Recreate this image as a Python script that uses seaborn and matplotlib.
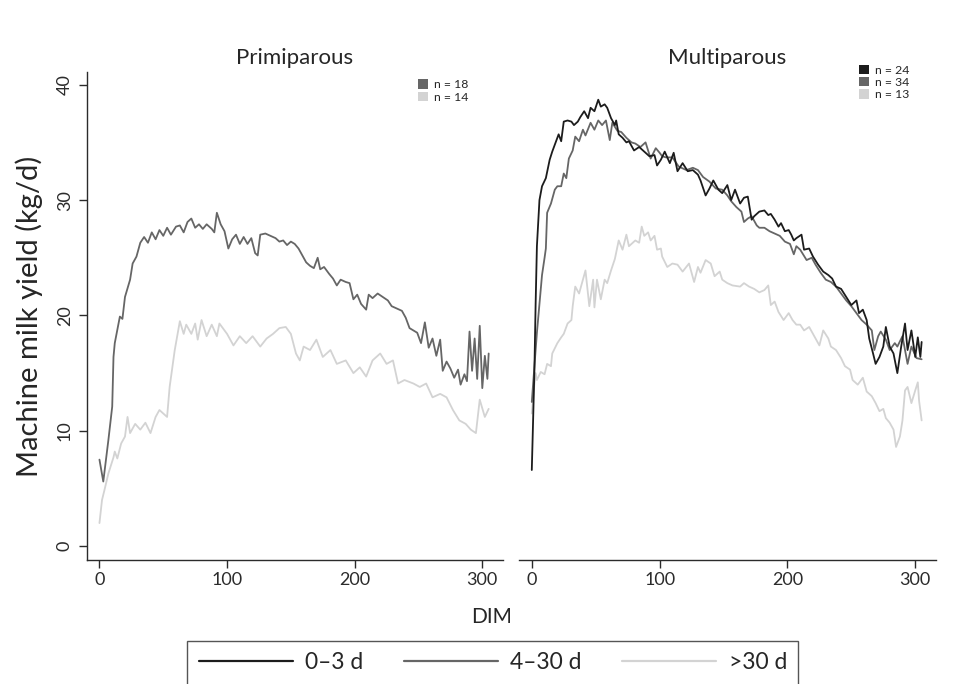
import matplotlib
matplotlib.use("Agg")
import matplotlib.pyplot as plt
from matplotlib.patches import Patch
from matplotlib.lines import Line2D
import pandas as pd
import seaborn as sns

# ---- values (DIM vs machine milk yield, kg/d) ----
# Primiparous, 4-30 d
prim_mid_dim = [0, 3, 7, 10, 11, 12, 16, 18, 20, 24, 26, 29, 32, 35, 38, 41, 44, 47, 50, 53,
                56, 60, 63, 66, 69, 72, 75, 78, 81, 84, 88, 90, 92, 95, 98, 101, 104, 107, 110, 113,
                116, 119, 122, 124, 126, 130, 134, 138, 141, 144, 147, 150, 153, 156, 159, 162, 165, 168, 171, 173,
                176, 180, 183, 186, 189, 193, 196, 199, 202, 205, 209, 211, 214, 218, 222, 226, 229, 233, 237, 240,
                243, 246, 249, 252, 255, 258, 261, 264, 267, 269, 272, 275, 278, 281, 283, 286, 288, 290, 292, 294,
                296, 298, 300, 302, 304, 305]
prim_mid_yield = [7.5, 5.6, 9.2, 12.1, 16.4, 17.6, 19.9, 19.7, 21.6, 23.1, 24.5, 25.1, 26.3, 26.8, 26.3, 27.2, 26.6, 27.4, 26.9, 27.6,
                  27.0, 27.7, 27.8, 27.2, 28.1, 28.4, 27.6, 27.9, 27.5, 27.9, 27.5, 27.2, 28.9, 27.9, 27.3, 25.8, 26.6, 27.0, 26.2, 26.8,
                  26.2, 26.7, 25.4, 25.2, 27.0, 27.1, 26.9, 26.7, 26.4, 26.5, 26.1, 26.4, 26.2, 25.8, 25.2, 24.6, 24.3, 24.1, 25.0, 24.0,
                  24.2, 23.6, 23.2, 22.6, 23.1, 22.9, 22.8, 21.4, 21.8, 21.0, 20.5, 21.8, 21.5, 21.9, 21.6, 21.3, 20.8, 20.6, 20.4, 19.8,
                  18.9, 18.7, 18.5, 17.6, 19.4, 17.2, 18.0, 16.5, 17.9, 15.2, 16.0, 15.4, 14.6, 15.3, 14.0, 14.9, 14.3, 18.6, 15.2, 18.0,
                  14.5, 19.1, 13.7, 16.5, 14.5, 16.7]

# Primiparous, >30 d
prim_late_dim = [0, 2, 4, 7, 11, 12, 14, 17, 20, 22, 24, 28, 32, 36, 40, 44, 47, 50, 53, 55,
                 59, 63, 66, 68, 72, 75, 77, 80, 84, 88, 92, 94, 100, 105, 110, 115, 120, 126, 131, 136,
                 141, 146, 150, 154, 157, 160, 165, 170, 175, 181, 186, 193, 199, 204, 209, 214, 220, 225, 230, 234,
                 239, 246, 251, 256, 261, 267, 272, 277, 282, 287, 291, 295, 298, 302, 305]
prim_late_yield = [2.0, 4.0, 4.9, 6.3, 7.7, 8.2, 7.6, 8.9, 9.5, 11.2, 9.8, 10.6, 10.1, 10.7, 9.8, 11.2, 11.8, 11.5, 11.2, 13.8,
                   17.0, 19.5, 18.4, 19.2, 18.4, 19.3, 17.9, 19.6, 18.2, 19.2, 18.2, 19.3, 18.4, 17.4, 18.2, 17.6, 18.2, 17.3, 18.0, 18.4,
                   18.9, 19.0, 18.4, 16.7, 16.1, 17.3, 17.0, 17.9, 16.4, 17.0, 15.8, 16.1, 15.0, 15.5, 14.7, 16.1, 16.7, 15.8, 16.1, 14.1,
                   14.4, 14.1, 13.8, 14.1, 12.9, 13.2, 12.9, 11.8, 10.9, 10.6, 10.1, 9.8, 12.7, 11.2, 11.9]

# Multiparous, 0-3 d
multi_early_dim = [0, 2, 3, 4, 6, 8, 11, 14, 16, 19, 21, 23, 25, 28, 31, 33, 36, 38, 41, 44,
                   46, 49, 52, 54, 57, 59, 62, 65, 66, 68, 71, 74, 76, 80, 84, 88, 92, 96, 98, 101,
                   104, 108, 111, 114, 118, 122, 126, 130, 132, 136, 139, 142, 146, 149, 153, 156, 159, 163, 166, 169,
                   172, 174, 178, 182, 185, 187, 190, 193, 195, 198, 201, 203, 205, 207, 211, 213, 217, 220, 224, 228,
                   232, 235, 238, 242, 246, 250, 254, 256, 259, 262, 264, 267, 269, 272, 275, 277, 280, 283, 286, 289,
                   292, 294, 297, 300, 302, 304, 305]
multi_early_yield = [6.6, 15.0, 21.0, 26.0, 30.0, 31.2, 31.9, 33.5, 34.2, 35.1, 35.7, 35.1, 36.8, 36.9, 36.8, 36.5, 36.8, 37.2, 37.7, 37.1,
                     38.0, 37.7, 38.7, 38.1, 38.3, 38.0, 37.1, 36.5, 36.9, 35.7, 35.4, 35.0, 35.1, 34.3, 34.6, 34.2, 33.8, 33.9, 33.0, 33.5,
                     34.2, 33.2, 34.1, 32.5, 33.2, 32.5, 32.6, 32.2, 31.7, 30.4, 31.0, 31.7, 30.9, 30.6, 31.3, 30.0, 30.9, 29.7, 30.2, 30.3,
                     28.3, 28.6, 29.0, 29.1, 28.7, 28.8, 28.3, 27.7, 28.0, 27.3, 27.4, 27.0, 26.5, 26.7, 27.0, 25.7, 25.8, 25.1, 24.4, 23.8,
                     23.5, 23.2, 22.5, 22.3, 21.6, 20.9, 21.3, 20.2, 20.5, 19.6, 18.0, 16.7, 15.8, 16.4, 17.3, 19.0, 17.3, 16.7, 15.0, 17.3,
                     19.3, 17.0, 18.7, 16.4, 18.1, 16.4, 17.7]

# Multiparous, 4-30 d
multi_mid_dim = [0, 2, 4, 6, 8, 10, 11, 12, 15, 18, 20, 23, 25, 27, 29, 32, 34, 37, 40, 42, 46,
                 49, 52, 55, 58, 61, 63, 67, 70, 74, 78, 81, 85, 89, 93, 97, 100, 102, 105, 110, 115,
                 121, 126, 130, 134, 139, 144, 149, 153, 156, 160, 164, 166, 169, 172, 176, 178, 182, 186, 190, 194,
                 198, 202, 205, 207, 210, 215, 219, 222, 226, 230, 234, 238, 242, 246, 250, 254, 258, 262, 266, 268,
                 271, 273, 277, 280, 284, 286, 290, 294, 297, 301, 305]
multi_mid_yield = [12.5, 15.5, 18.5, 21.0, 23.5, 25.0, 25.8, 28.9, 29.7, 30.9, 31.2, 31.2, 32.3, 31.9, 33.6, 34.3, 35.5, 35.1, 36.1, 35.6, 36.7,
                   36.1, 36.9, 36.5, 36.9, 35.2, 36.7, 36.0, 35.9, 35.4, 35.0, 34.9, 34.6, 35.0, 33.6, 34.5, 34.1, 33.8, 33.7, 33.7, 32.9,
                   32.6, 32.8, 32.6, 32.0, 31.6, 31.0, 30.9, 30.4, 29.9, 29.4, 29.0, 28.1, 28.4, 28.6, 27.8, 27.6, 27.6, 27.3, 27.1, 26.9,
                   26.4, 26.2, 25.3, 26.0, 25.7, 24.8, 25.0, 24.4, 23.7, 23.1, 22.9, 22.5, 21.9, 21.3, 20.8, 20.2, 19.6, 19.2, 18.7, 17.0,
                   18.2, 18.6, 17.9, 17.0, 17.6, 17.3, 18.2, 15.8, 17.3, 16.3, 16.2]

# Multiparous, >30 d
multi_late_dim = [0, 2, 3, 4, 7, 10, 12, 15, 16, 20, 23, 25, 28, 31, 32, 34, 37, 40, 42, 45,
                  48, 49, 51, 54, 57, 59, 62, 65, 68, 71, 74, 76, 79, 81, 84, 86, 88, 91, 93, 96,
                  98, 101, 102, 106, 110, 114, 118, 123, 127, 130, 132, 136, 140, 143, 147, 149, 153, 157, 163, 166,
                  170, 174, 178, 182, 185, 187, 190, 193, 197, 201, 204, 207, 210, 213, 217, 221, 225, 228, 232, 234,
                  238, 242, 245, 249, 251, 255, 259, 262, 266, 269, 272, 275, 277, 280, 283, 285, 288, 290, 292, 294,
                  297, 300, 302, 303, 305]
multi_late_yield = [11.5, 14.0, 15.0, 14.4, 15.1, 14.9, 15.8, 15.6, 16.7, 17.6, 18.1, 18.4, 19.3, 19.6, 20.8, 22.5, 21.9, 23.1, 23.9, 20.8,
                    23.1, 20.7, 23.1, 21.4, 23.1, 22.8, 23.9, 24.9, 26.5, 25.7, 27.0, 26.0, 26.3, 26.5, 26.3, 27.7, 26.9, 27.2, 26.5, 26.9,
                    25.7, 25.8, 25.1, 24.2, 24.5, 24.4, 23.8, 24.5, 22.9, 24.2, 23.7, 24.8, 24.5, 23.4, 23.8, 23.1, 22.8, 22.6, 22.5, 22.8,
                    22.5, 22.3, 22.0, 22.2, 22.6, 20.9, 21.2, 20.3, 19.6, 20.2, 19.6, 19.2, 19.2, 18.7, 19.0, 18.2, 17.4, 18.7, 18.0, 17.3,
                    17.0, 16.3, 15.6, 15.3, 14.4, 14.0, 14.6, 13.4, 13.0, 12.4, 11.7, 11.9, 11.1, 10.7, 10.1, 8.6, 9.5, 10.9, 13.5, 13.8,
                    12.4, 13.5, 14.2, 12.6, 10.9]

groups = ["0–3 d", "4–30 d", ">30 d"]
colors = {"0–3 d": "#1c1c1c", "4–30 d": "#666666", ">30 d": "#d3d3d3"}
prim_n = {"4–30 d": 18, ">30 d": 14}
multi_n = {"0–3 d": 24, "4–30 d": 34, ">30 d": 13}


def frame(dim, y, group):
    return pd.DataFrame({"DIM": dim, "yield": y, "group": group})


prim = pd.concat([frame(prim_late_dim, prim_late_yield, ">30 d"),
                  frame(prim_mid_dim, prim_mid_yield, "4–30 d")])
multi = pd.concat([frame(multi_late_dim, multi_late_yield, ">30 d"),
                   frame(multi_mid_dim, multi_mid_yield, "4–30 d"),
                   frame(multi_early_dim, multi_early_yield, "0–3 d")])

sns.set_style("white")
plt.rcParams["font.family"] = ["Lato", "DejaVu Sans"]
plt.rcParams["axes.edgecolor"] = "#2b2b2b"
plt.rcParams["xtick.color"] = "#2b2b2b"
plt.rcParams["ytick.color"] = "#2b2b2b"

fig = plt.figure(figsize=(9.59, 6.84), dpi=100)
ax1 = fig.add_axes([0.0904, 0.1813, 0.4338, 0.7134])
ax2 = fig.add_axes([0.5412, 0.1813, 0.4345, 0.7134], sharey=ax1)

for ax, df, title in [(ax1, prim, "Primiparous"), (ax2, multi, "Multiparous")]:
    sns.lineplot(data=df, x="DIM", y="yield", hue="group", palette=colors,
                 estimator=None, sort=False, linewidth=1.3, legend=False, ax=ax)
    ax.set_xlim(-10, 316)
    ax.set_ylim(-1.2, 41.1)
    ax.set_xticks([0, 100, 200, 300])
    ax.set_xlabel("")
    ax.set_ylabel("")
    ax.set_title(title, fontsize=16, pad=6)
    ax.tick_params(axis="x", length=6, width=1, labelsize=13, pad=3, direction="out", bottom=True)
    for s in ["top", "right"]:
        ax.spines[s].set_visible(False)
    ax.spines["bottom"].set_linewidth(1)
    ax.spines["left"].set_linewidth(1)

ax1.set_yticks([0, 10, 20, 30, 40])
ax1.tick_params(axis="y", length=6, width=1, labelsize=13, pad=4, direction="out", left=True,
                labelrotation=90)
for lab in ax1.get_yticklabels():
    lab.set_va("center")
ax1.set_ylabel("Machine milk yield (kg/d)", fontsize=21, labelpad=10)
ax2.spines["left"].set_visible(False)
ax2.tick_params(axis="y", left=False, labelleft=False)

# small n legends
h1 = [Patch(facecolor=colors[g], edgecolor="none") for g in prim_n]
ax1.legend(h1, [f"n = {n}" for n in prim_n.values()], loc="upper left",
           bbox_to_anchor=(0.797, 0.985), frameon=False, fontsize=8.8,
           handlelength=0.8, handleheight=0.8, handletextpad=0.5,
           labelspacing=0.1, borderpad=0, borderaxespad=0)
h2 = [Patch(facecolor=colors[g], edgecolor="none") for g in multi_n]
ax2.legend(h2, [f"n = {n}" for n in multi_n.values()], loc="upper left",
           bbox_to_anchor=(0.817, 1.015), frameon=False, fontsize=8.8,
           handlelength=0.8, handleheight=0.8, handletextpad=0.5,
           labelspacing=0.1, borderpad=0, borderaxespad=0)

fig.text(0.5127, 0.098, "DIM", ha="center", va="center", fontsize=15)

lh = [Line2D([], [], color=colors[g], linewidth=1.6) for g in groups]
leg = fig.legend(lh, groups, loc="upper center", bbox_to_anchor=(0.514, 0.0629), ncol=3,
                 fontsize=16.5, frameon=True, fancybox=False, handlelength=4.1,
                 handletextpad=0.55, columnspacing=1.75, borderpad=0.5, borderaxespad=0)
leg.get_frame().set_edgecolor("#2b2b2b")
leg.get_frame().set_linewidth(1)

fig.savefig("out.png", dpi=100)
